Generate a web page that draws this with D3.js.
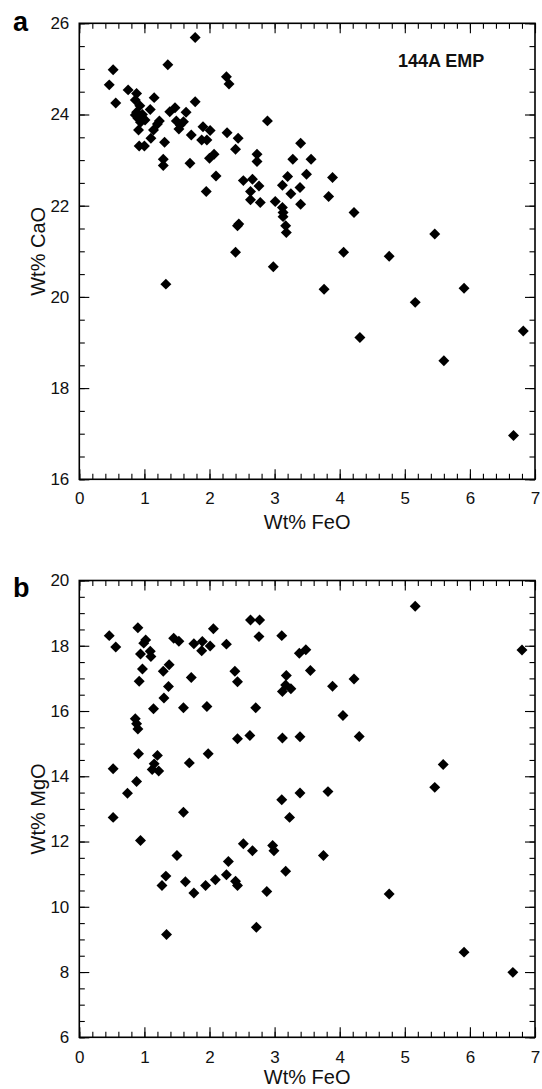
<!DOCTYPE html>
<html><head><meta charset="utf-8">
<script src="https://cdn.jsdelivr.net/npm/d3@7"></script>
<style>
html,body{margin:0;padding:0;background:#fff;}
svg{display:block;font-family:"Liberation Sans",Arial,sans-serif;}
</style></head>
<body>
<svg id="chart" width="542" height="1089"></svg>
<script>
// ---------- data ----------
const xTicks = [0,1,2,3,4,5,6,7];
const yTicksA = [16,18,20,22,24,26];
const yTicksB = [6,8,10,12,14,16,18,20];
const xTitle = "Wt% FeO";
const yTitleA = "Wt% CaO";
const yTitleB = "Wt% MgO";
const panelLabels = ["a","b"];
const annotationA = "144A EMP";

const feoA = [0.46,0.52,0.56,0.75,0.88,0.86,1.15,1.78,1.36,2.26,2.30,1.78,
0.93,1.09,0.88,0.97,0.90,1.01,0.94,0.86,
0.91,1.23,1.20,1.14,1.10,0.92,1.00,1.31,1.29,1.29,
1.39,1.47,1.64,1.49,1.55,1.60,1.53,1.72,1.70,
1.90,2.01,1.88,1.96,2.00,2.07,2.10,1.95,
2.27,2.44,2.40,2.89,2.73,2.73,2.52,2.66,2.63,2.63,2.76,2.78,
2.43,2.45,2.40,2.98,1.33,
3.01,3.12,3.13,3.13,3.17,3.18,3.12,3.20,3.25,3.28,3.40,3.39,3.40,3.49,3.56,
3.89,3.83,4.22,4.06,3.76,4.76,5.46,5.16,5.91,4.31,5.60,6.82,6.67];
const caoA = [24.65,24.98,24.25,24.54,24.46,24.32,24.37,25.69,25.09,24.83,24.67,24.28,
24.19,24.11,24.05,24.00,23.92,23.88,23.83,23.99,
23.66,23.86,23.79,23.66,23.48,23.31,23.31,23.39,23.02,22.88,
24.06,24.15,24.05,23.86,23.77,23.84,23.68,23.55,22.93,
23.73,23.65,23.44,23.44,23.04,23.13,22.65,22.31,
23.60,23.48,23.24,23.86,23.13,22.97,22.55,22.58,22.31,22.13,22.43,22.07,
21.56,21.60,20.98,20.66,20.28,
22.09,21.96,21.85,21.76,21.56,21.41,22.45,22.64,22.26,23.02,23.37,22.40,22.03,22.69,23.02,
22.62,22.20,21.85,20.98,20.17,20.89,21.38,19.88,20.19,19.11,18.60,19.25,16.96];

const feoB = [0.46,0.56,0.90,1.02,0.99,0.94,1.09,1.10,0.97,0.92,
1.45,1.53,1.76,1.89,1.88,2.01,2.06,2.26,2.63,2.77,2.76,3.11,3.38,3.48,3.55,
1.38,1.29,1.37,1.30,1.14,1.60,1.72,1.96,2.39,2.43,2.71,3.18,3.17,3.12,3.25,3.89,4.22,4.05,4.30,
2.43,2.62,3.12,3.39,0.86,0.88,0.90,0.91,1.20,1.15,1.12,1.22,0.52,0.88,0.74,1.69,1.98,
0.52,1.60,0.94,3.11,3.39,3.82,3.23,5.46,5.59,
2.52,2.66,2.97,2.99,3.75,1.50,2.29,3.17,1.33,1.27,1.63,1.76,1.94,2.09,2.26,2.40,2.43,2.88,4.76,2.72,1.34,5.91,6.66,5.16,6.80];
const mgoB = [18.31,17.96,18.55,18.18,18.08,17.75,17.83,17.67,17.29,16.91,
18.23,18.14,18.06,18.13,17.85,17.99,18.52,18.05,18.79,18.79,18.28,18.31,17.77,17.88,17.24,
17.42,17.22,16.75,16.40,16.07,16.10,17.03,16.14,17.22,16.90,16.10,17.09,16.80,16.60,16.68,16.76,16.98,15.86,15.22,
15.15,15.25,15.17,15.21,15.76,15.61,15.45,14.69,14.64,14.38,14.21,14.16,14.23,13.84,13.48,14.41,14.69,
12.74,12.90,12.03,13.28,13.49,13.53,12.74,13.66,14.36,
11.93,11.72,11.88,11.72,11.57,11.57,11.39,11.09,10.94,10.65,10.77,10.42,10.65,10.83,10.98,10.78,10.65,10.47,10.39,9.37,9.15,8.61,7.99,19.21,17.87];

// ---------- layout ----------
const svg = d3.select("#chart");
const L = 79.3, R = 535;
const panels = [
  {top:23.3, bottom:479.3, ydom:[16,26], yTicks:yTicksA, xs:feoA, ys:caoA, title:yTitleA, label:panelLabels[0], labelY:31, xLabPad:12.5, xTitleY:529, annot:annotationA},
  {top:580.5, bottom:1037.3, ydom:[6,20], yTicks:yTicksB, xs:feoB, ys:mgoB, title:yTitleB, label:panelLabels[1], labelY:597, xLabPad:14, xTitleY:1084, annot:null}
];

const minorLen = 5.5, majorLen = 10;
const sym = d3.symbol().type(d3.symbolSquare).size(60);

panels.forEach(p => {
  const x = d3.scaleLinear().domain([0,7]).range([L,R]);
  const y = d3.scaleLinear().domain(p.ydom).range([p.bottom,p.top]);
  const g = svg.append("g");
  const xMinor = d3.range(0,7.0001,0.2).map(v=>+v.toFixed(2));
  const yMinor = d3.range(p.ydom[0],p.ydom[1]+0.0001,0.5);

  function styleAxis(sel, fs){
    sel.select(".domain").remove();
    sel.selectAll(".tick line").attr("stroke","#000").attr("stroke-width",1.1);
    sel.selectAll(".tick text").attr("fill","#111").style("font-size",fs+"px").style("font-family","'Liberation Sans',Arial,sans-serif");
  }
  // bottom
  g.append("g").attr("transform",`translate(0,${p.bottom})`)
    .call(d3.axisBottom(x).tickValues(xMinor).tickSize(-minorLen).tickFormat("")).call(s=>styleAxis(s,17));
  g.append("g").attr("transform",`translate(0,${p.bottom})`)
    .call(d3.axisBottom(x).tickValues(xTicks).tickSize(-majorLen).tickPadding(p.xLabPad).tickFormat(d3.format("d"))).call(s=>styleAxis(s,17));
  // top
  g.append("g").attr("transform",`translate(0,${p.top})`)
    .call(d3.axisTop(x).tickValues(xMinor).tickSize(-minorLen).tickFormat("")).call(s=>styleAxis(s,17));
  g.append("g").attr("transform",`translate(0,${p.top})`)
    .call(d3.axisTop(x).tickValues(xTicks).tickSize(-majorLen).tickFormat("")).call(s=>styleAxis(s,17));
  // left
  g.append("g").attr("transform",`translate(${L},0)`)
    .call(d3.axisLeft(y).tickValues(yMinor).tickSize(-minorLen).tickFormat("")).call(s=>styleAxis(s,17));
  g.append("g").attr("transform",`translate(${L},0)`)
    .call(d3.axisLeft(y).tickValues(p.yTicks).tickSize(-majorLen).tickPadding(10).tickFormat(d3.format("d"))).call(s=>styleAxis(s,17));
  // right
  g.append("g").attr("transform",`translate(${R},0)`)
    .call(d3.axisRight(y).tickValues(yMinor).tickSize(-minorLen).tickFormat("")).call(s=>styleAxis(s,17));
  g.append("g").attr("transform",`translate(${R},0)`)
    .call(d3.axisRight(y).tickValues(p.yTicks).tickSize(-majorLen).tickFormat("")).call(s=>styleAxis(s,17));

  // frame
  g.append("rect").attr("x",L).attr("y",p.top).attr("width",R-L).attr("height",p.bottom-p.top)
    .attr("fill","none").attr("stroke","#000").attr("stroke-width",1.6);

  // points
  g.append("g").selectAll("path").data(p.xs.map((v,i)=>[v,p.ys[i]])).join("path")
    .attr("d",sym)
    .attr("transform",d=>`translate(${x(d[0])},${y(d[1])}) rotate(45)`)
    .attr("fill","#000");

  // titles
  g.append("text").attr("x",(L+R)/2).attr("y",p.xTitleY).attr("text-anchor","middle")
    .style("font-size","20px").attr("fill","#111").text(xTitle);
  const cy = (p.top+p.bottom)/2;
  g.append("text").attr("transform",`translate(45,${cy}) rotate(-90)`).attr("text-anchor","middle")
    .style("font-size","20px").attr("fill","#111").text(p.title);
  g.append("text").attr("x",13).attr("y",p.labelY).style("font-size","27px").style("font-weight","bold")
    .attr("fill","#000").text(p.label);
  if(p.annot){
    g.append("text").attr("x",398).attr("y",67).style("font-size","18px").style("font-weight","bold")
      .attr("fill","#111").text(p.annot);
  }
});
</script>
</body></html>
